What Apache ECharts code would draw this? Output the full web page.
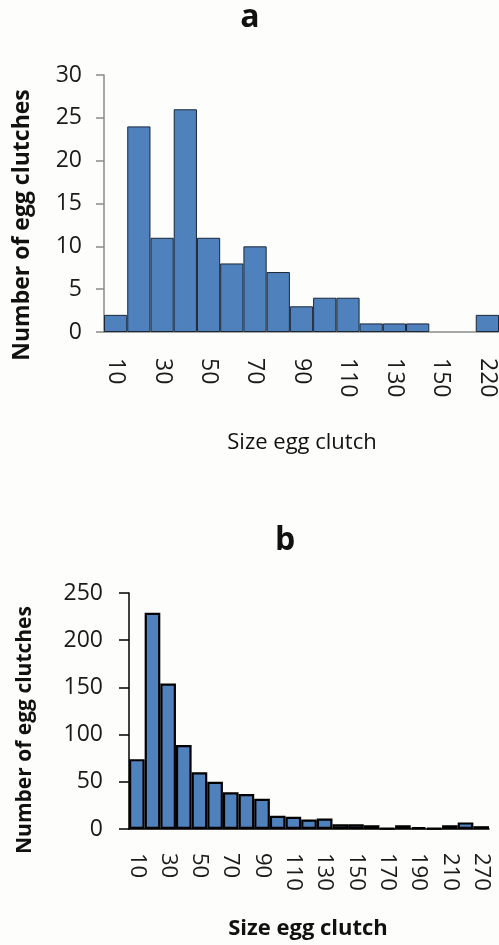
<!DOCTYPE html>
<html>
<head>
<meta charset="utf-8">
<script src="https://cdn.jsdelivr.net/npm/echarts@6/dist/echarts.min.js"></script>
<style>
html,body{margin:0;padding:0;background:#fdfdfb;}
#c{width:499px;height:945px;}
</style>
</head>
<body>
<div id="c"></div>
<script>
// Chart a
const catsA = ['10','20','30','40','50','60','70','80','90','100','110','120','130','140','150','200','220'];
const valuesA = [2,24,11,26,11,8,10,7,3,4,4,1,1,1,0,0,2];
// Chart b
const catsB = ['10','20','30','40','50','60','70','80','90','100','110','120','130','140','150','160','170','180','190','200','210','260','270'];
const valuesB = [74,229,154,89,60,50,39,37,32,14,13,10,11,5,5,4,1,4,2,1,4,7,3];
const yTicksA = {min:0, max:30, interval:5};
const yTicksB = {min:0, max:250, interval:50};

const FONT = '"Open Sans", "Liberation Sans", sans-serif';
const chart = echarts.init(document.getElementById('c'), null, {renderer:'canvas'});

function txt(text, x, y, size, weight, rot){
  return {type:'text', x:x, y:y, rotation:rot||0,
    style:{text:text, font: weight+' '+size+'px '+FONT, fill:'#111',
      textAlign:'center', textVerticalAlign:'middle'}};
}
// empty bins draw no outline
const dataA = valuesA.map(v => v === 0 ? {value:v, itemStyle:{borderWidth:0}} : v);

chart.setOption({
  backgroundColor:'#fdfdfb',
  animation:false,
  grid:[
    {left:104, right:0, top:75, bottom:945-332, containLabel:false},
    {left:129, right:10, top:593, bottom:945-829, containLabel:false}
  ],
  xAxis:[
    {type:'category', gridIndex:0, data:catsA,
     axisLine:{lineStyle:{color:'#8a8a8a', width:1.5}},
     axisTick:{show:false},
     axisLabel:{interval:1, rotate:-90, margin:26, fontSize:23, fontFamily:FONT, color:'#1a1a1a'}},
    {type:'category', gridIndex:1, data:catsB,
     axisLine:{lineStyle:{color:'#000', width:1.5}},
     axisTick:{show:false},
     axisLabel:{interval:1, rotate:-90, margin:24, fontSize:22, fontFamily:FONT, color:'#1a1a1a'}}
  ],
  yAxis:[
    {type:'value', gridIndex:0, min:yTicksA.min, max:yTicksA.max, interval:yTicksA.interval,
     splitLine:{show:false},
     axisLine:{show:true, lineStyle:{color:'#8a8a8a', width:1.5}},
     axisTick:{show:true, length:8, lineStyle:{color:'#8a8a8a', width:1.5}},
     axisLabel:{margin:22, fontSize:23, fontFamily:FONT, color:'#1a1a1a'}},
    {type:'value', gridIndex:1, min:yTicksB.min, max:yTicksB.max, interval:yTicksB.interval,
     splitLine:{show:false},
     axisLine:{show:true, lineStyle:{color:'#000', width:1.5}},
     axisTick:{show:true, length:10, lineStyle:{color:'#000', width:1.5}},
     axisLabel:{margin:26, fontSize:23, fontFamily:FONT, color:'#1a1a1a'}}
  ],
  series:[
    {type:'bar', xAxisIndex:0, yAxisIndex:0, data:dataA, barCategoryGap:0,
     itemStyle:{color:'#4f81bd', borderColor:'#1b2636', borderWidth:1}},
    {type:'bar', xAxisIndex:1, yAxisIndex:1, data:valuesB, barCategoryGap:0,
     itemStyle:{color:'#4f81bd', borderColor:'#000', borderWidth:2.2}}
  ],
  graphic:[
    txt('a', 250, 18, 32, 'bold'),
    txt('Number of egg clutches', 22, 225, 23, 'bold', Math.PI/2),
    txt('Size egg clutch', 302, 443, 22, '500'),
    txt('b', 285, 541, 32, 'bold'),
    txt('Number of egg clutches', 25, 730, 21, 'bold', Math.PI/2),
    txt('Size egg clutch', 308, 929, 22, 'bold')
  ]
});
</script>
</body>
</html>
